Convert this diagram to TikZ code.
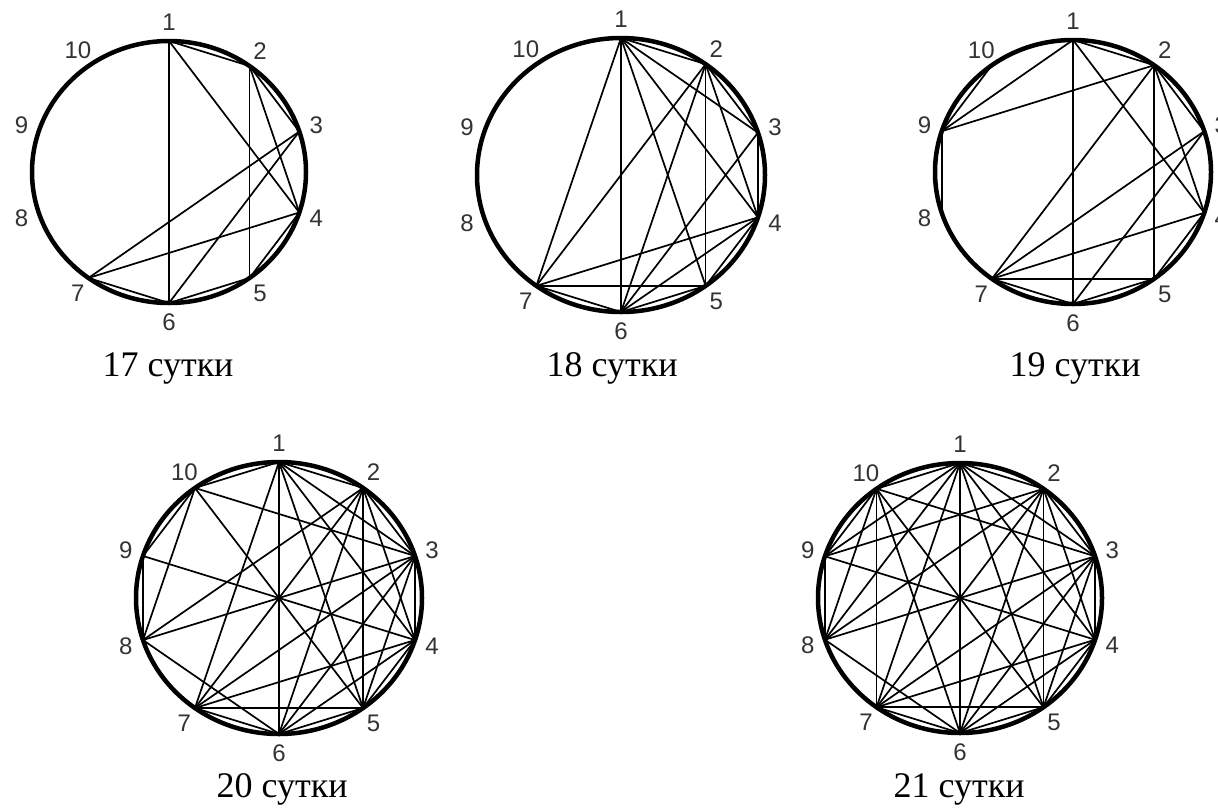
\documentclass[tikz,border=0pt]{standalone}
\usepackage{fontspec}
\setmainfont{Liberation Serif}
\newfontfamily\labfont{Liberation Sans}
\tikzset{
  rim/.style={line width=4.5pt, black},
  edge/.style={line width=1.7pt, black},
  lbl/.style={font=\labfont\fontsize{24}{28}\selectfont, text=black!80, inner sep=0pt},
  captext/.style={font=\fontsize{36}{40}\selectfont, inner sep=0pt, anchor=base}
}
\newcommand\drawgraph[6]{%
  \begin{scope}[shift={(#2,#3)}]
    \draw[rim] (0,0) ellipse [x radius=#4, y radius=#5];
    \foreach \k in {1,...,10} {
      \pgfmathsetmacro\ang{90-36*(\k-1)}
      \coordinate (#1-\k) at ({#4*cos(\ang)},{-#5*sin(\ang)});
      \node[lbl] (#1-l\k) at ({(#4+18)*cos(\ang)},{-(#5+19)*sin(\ang)}) {\k};
    }
    \foreach \a/\b in {#6} { \draw[edge] (#1-\a) -- (#1-\b); }
  \end{scope}}
\begin{document}
\begin{tikzpicture}[x=1pt,y=-1pt]
\useasboundingbox (0,0) rectangle (1218,809);
\fill[white] (0,0) rectangle (1218,809);

\drawgraph{ga}{169}{172}{137}{131}{1/2,1/4,1/6,2/3,2/4,2/5,3/6,3/7,4/5,4/7,5/6,6/7}
\drawgraph{gb}{621}{175}{144}{137}{1/2,1/3,1/4,1/5,1/6,1/7,2/3,2/4,2/5,2/6,2/7,3/4,3/6,4/5,4/6,4/7,5/6,5/7,6/7}
\drawgraph{gc}{1073}{172}{138}{132}{1/2,1/4,1/6,1/9,2/3,2/4,2/5,2/7,2/9,3/6,3/7,4/5,4/7,5/6,5/7,6/7,8/9,9/10}
\drawgraph{gd}{279}{598}{143}{136}{1/2,1/3,1/4,1/5,1/6,1/7,1/10,2/3,2/4,2/5,2/6,2/7,2/8,3/4,3/5,3/6,3/7,3/8,3/10,4/5,4/6,4/7,4/9,5/6,5/7,5/10,6/7,6/8,8/9,8/10,9/10}
\drawgraph{ge}{960}{598}{142}{135}{1/2,1/3,1/4,1/5,1/6,1/7,1/8,1/9,1/10,2/3,2/4,2/5,2/6,2/7,2/8,2/9,3/4,3/5,3/6,3/7,3/8,3/10,4/5,4/6,4/7,4/9,5/6,5/7,5/10,6/7,6/8,6/10,7/10,8/9,8/10,9/10}

\node[captext] (cap17) at (168,376) {17 сутки};
\node[captext] (cap18) at (612,376) {18 сутки};
\node[captext] (cap19) at (1075,376) {19 сутки};
\node[captext] (cap20) at (282,797) {20 сутки};
\node[captext] (cap21) at (959,797) {21 сутки};
\end{tikzpicture}
\end{document}
